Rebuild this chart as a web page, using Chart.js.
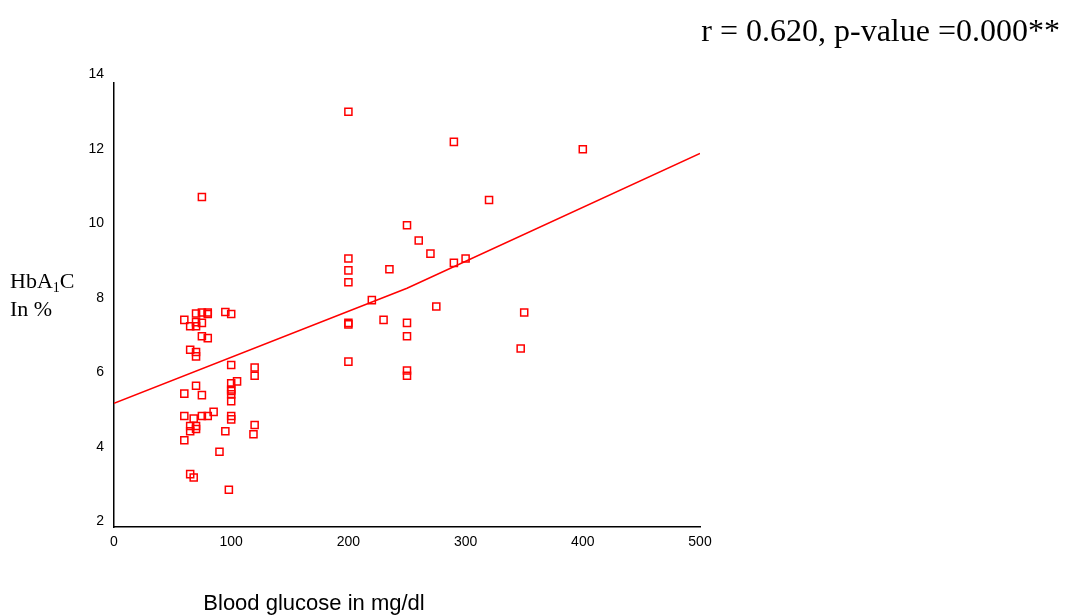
<!DOCTYPE html>
<html>
<head>
<meta charset="utf-8">
<script src="https://cdn.jsdelivr.net/npm/chart.js@4/dist/chart.umd.min.js"></script>
<style>
  html, body { margin: 0; padding: 0; background: #fff; }
  #wrap { width: 1068px; height: 615px; }
</style>
</head>
<body>
<div id="wrap"><canvas id="c" width="1068" height="615"></canvas></div>
<script>
// Blood glucose (mg/dl) against HbA1C (%) per subject
const glucose = [
  60, 60, 60, 60,
  65, 65, 65, 65, 65,
  68, 68,
  70, 70, 70, 70, 70, 70, 70, 70,
  75, 75, 75, 75, 75, 75,
  80, 80, 80, 80,
  85, 90, 95, 95,
  100, 100, 100, 100, 100, 100, 100, 100, 100, 98,
  105,
  120, 120, 120, 119,
  200, 200, 200, 200, 200, 200, 200,
  220, 230, 235,
  250, 250, 250, 250, 250,
  260, 270, 275,
  290, 290, 300, 320, 347, 350, 400
];
const hba1c = [
  7.41, 5.43, 4.83, 4.18,
  7.24, 6.61, 4.56, 4.42, 3.27,
  4.76, 3.18,
  7.58, 7.35, 7.24, 6.55, 6.43, 5.64, 4.56, 4.48,
  7.61, 7.33, 6.97, 5.39, 4.83, 10.71,
  7.61, 7.57, 6.92, 4.83,
  4.94, 3.87, 7.62, 4.42,
  7.57, 6.20, 5.71, 5.54, 5.50, 5.41, 5.23, 4.83, 4.74, 2.85,
  5.76,
  6.13, 5.91, 4.59, 4.34,
  13.0, 9.06, 8.74, 8.42, 7.33, 7.29, 6.29,
  7.94, 7.41, 8.77,
  9.95, 7.33, 6.97, 6.05, 5.91,
  9.54, 9.19, 7.77,
  12.19, 8.94, 9.06, 10.63, 6.64, 7.61, 11.99
];

// Fitted line through the scatter
const fitX = [0, 250, 500];
const fitY = [5.17, 8.26, 11.88];

const xTicks = [0, 100, 200, 300, 400, 500];
const yTicks = [2, 4, 6, 8, 10, 12, 14];

const statText = 'r = 0.620, p-value =0.000**';
const xTitle = 'Blood glucose in mg/dl';

const points = glucose.map((g, i) => ({ x: g, y: hba1c[i] }));
const fitLine = fitX.map((g, i) => ({ x: g, y: fitY[i] }));

const annotations = {
  id: 'annotations',
  afterDraw(chart) {
    const ctx = chart.ctx;
    const area = chart.chartArea;
    ctx.save();
    ctx.fillStyle = '#000';

    // statistics line, top right
    ctx.font = '32px "Liberation Serif", "Times New Roman", serif';
    ctx.textAlign = 'right';
    ctx.textBaseline = 'alphabetic';
    ctx.fillText(statText, 1060, 41);

    // x axis title
    ctx.font = '22px "Liberation Sans", Arial, sans-serif';
    ctx.textAlign = 'center';
    ctx.fillText(xTitle, area.left + 200, 610);

    // y axis title: HbA1C / In %
    ctx.font = '22px "Liberation Serif", "Times New Roman", serif';
    ctx.textAlign = 'left';
    let x = 10;
    const base1 = 288;
    ctx.fillText('HbA', x, base1);
    x += ctx.measureText('HbA').width;
    ctx.font = '14px "Liberation Serif", "Times New Roman", serif';
    ctx.fillText('1', x, base1 + 4);
    x += ctx.measureText('1').width;
    ctx.font = '22px "Liberation Serif", "Times New Roman", serif';
    ctx.fillText('C', x, base1);
    ctx.fillText('In %', 10, 316);
    ctx.restore();
  }
};

new Chart(document.getElementById('c'), {
  type: 'scatter',
  data: {
    datasets: [
      {
        type: 'scatter',
        data: points,
        pointStyle: 'rect',
        pointRadius: 5,
        pointHoverRadius: 5,
        borderColor: '#ff0000',
        backgroundColor: 'rgba(255,255,255,0)',
        borderWidth: 1.5,
        order: 1
      },
      {
        type: 'line',
        data: fitLine,
        borderColor: '#ff0000',
        borderWidth: 1.5,
        pointRadius: 0,
        fill: false,
        tension: 0,
        order: 2
      }
    ]
  },
  options: {
    responsive: false,
    animation: false,
    events: [],
    layout: { padding: { top: 83, right: 368, bottom: 0, left: 0 } },
    plugins: { legend: { display: false }, tooltip: { enabled: false } },
    scales: {
      x: {
        type: 'linear',
        min: 0,
        max: 500,
        afterFit(scale) { scale.height = 88; },
        afterBuildTicks(scale) { scale.ticks = xTicks.map(v => ({ value: v })); },
        grid: { display: false, drawTicks: false },
        border: { display: true, color: '#000', width: 1.5 },
        ticks: {
          padding: 7,
          color: '#000',
          font: { family: '"Liberation Sans", Arial, sans-serif', size: 14 }
        }
      },
      y: {
        type: 'linear',
        min: 1.85,
        max: 13.77,
        afterFit(scale) { scale.width = 114; },
        afterBuildTicks(scale) { scale.ticks = yTicks.map(v => ({ value: v })); },
        grid: { display: false, drawTicks: false },
        border: { display: true, color: '#000', width: 1.5 },
        ticks: {
          padding: 10,
          color: '#000',
          font: { family: '"Liberation Sans", Arial, sans-serif', size: 14 }
        }
      }
    }
  },
  plugins: [annotations]
});
</script>
</body>
</html>
